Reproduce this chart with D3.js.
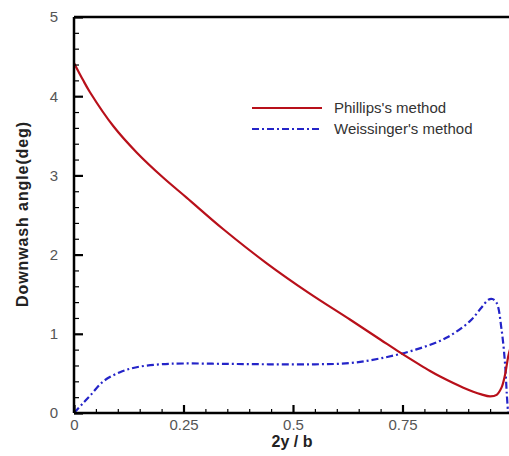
<!DOCTYPE html>
<html>
<head>
<meta charset="utf-8">
<script src="https://cdn.jsdelivr.net/npm/d3@7"></script>
<style>
  html, body { margin: 0; padding: 0; background: #fff; }
  svg { display: block; }
  text { font-family: "Liberation Sans", Arial, sans-serif; }
</style>
</head>
<body>
<svg id="chart" width="509" height="456"></svg>
<script>
// Spanwise downwash angle: Phillips's vs Weissinger's method
const phillipsX = [0, 0.02, 0.0365, 0.09, 0.143, 0.204, 0.257, 0.341, 0.44, 0.535, 0.63, 0.70, 0.744, 0.786, 0.813, 0.836, 0.889, 0.93, 0.95, 0.965, 0.976, 0.984, 0.992, 0.998];
const phillipsY = [4.42, 4.21, 4.05, 3.62, 3.29, 2.97, 2.72, 2.32, 1.89, 1.52, 1.18, 0.925, 0.765, 0.62, 0.53, 0.46, 0.32, 0.235, 0.21, 0.23, 0.32, 0.48, 0.73, 0.85];

const weissingerX = [0, 0.02, 0.037, 0.067, 0.105, 0.143, 0.196, 0.25, 0.35, 0.45, 0.55, 0.63, 0.70, 0.78, 0.85, 0.904, 0.93, 0.946, 0.955, 0.965, 0.976, 0.984, 0.988, 0.991];
const weissingerY = [0, 0.12, 0.22, 0.40, 0.515, 0.578, 0.615, 0.625, 0.62, 0.615, 0.615, 0.63, 0.69, 0.80, 0.95, 1.16, 1.33, 1.43, 1.44, 1.39, 1.06, 0.63, 0.25, 0];

const xMajorTicks = [0, 0.25, 0.5, 0.75];
const xTickLabels = ["0", "0.25", "0.5", "0.75"];
const yMajorTicks = [0, 1, 2, 3, 4, 5];
const yTickLabels = ["0", "1", "2", "3", "4", "5"];

const seriesNames = ["Phillips's method", "Weissinger's method"];
const seriesColors = ["#b8101a", "#2424c8"];

const svg = d3.select("#chart");
const plotLeft = 74, plotTop = 17, plotRight = 512, plotBottom = 413;

const x = d3.scaleLinear().domain([0, 1]).range([plotLeft, plotRight]);
const y = d3.scaleLinear().domain([0, 5]).range([plotBottom, plotTop]);

const line = d3.line()
  .x(d => x(d[0]))
  .y(d => y(d[1]))
  .curve(d3.curveCatmullRom.alpha(0.5));

// curves
const phillips = phillipsX.map((v, i) => [v, phillipsY[i]]);
const weissinger = weissingerX.map((v, i) => [v, weissingerY[i]]);

svg.append("path").datum(weissinger)
  .attr("d", line).attr("fill", "none")
  .attr("stroke", seriesColors[1]).attr("stroke-width", 2.2)
  .attr("stroke-dasharray", "7,3,2,3");

svg.append("path").datum(phillips)
  .attr("d", line).attr("fill", "none")
  .attr("stroke", seriesColors[0]).attr("stroke-width", 2.2);

// axes: ticks point inward
const xMinor = d3.range(0, 1.0001, 0.05).filter(v => !xMajorTicks.some(m => Math.abs(m - v) < 1e-9));
const yMinor = d3.range(0, 5.0001, 0.2).filter(v => !yMajorTicks.some(m => Math.abs(m - v) < 1e-9));

const xAxisMinor = d3.axisBottom(x).tickValues(xMinor).tickSize(-4).tickFormat("");
const xAxisMajor = d3.axisBottom(x).tickValues(xMajorTicks).tickSize(-8)
  .tickFormat((d, i) => xTickLabels[i]).tickPadding(6);
const yAxisMinor = d3.axisLeft(y).tickValues(yMinor).tickSize(-5).tickFormat("");
const yAxisMajor = d3.axisLeft(y).tickValues(yMajorTicks).tickSize(-9)
  .tickFormat((d, i) => yTickLabels[i]).tickPadding(16);

function styleAxis(g, w) {
  g.select(".domain").remove();
  g.selectAll(".tick line").attr("stroke", "#000").attr("stroke-width", w);
  g.selectAll(".tick text").attr("fill", "#555").attr("font-size", 15)
    .attr("font-family", "Liberation Sans, Arial, sans-serif");
}

svg.append("g").attr("transform", `translate(0,${plotBottom})`).call(xAxisMinor).call(g => styleAxis(g, 1.2));
svg.append("g").attr("transform", `translate(0,${plotBottom})`).call(xAxisMajor).call(g => styleAxis(g, 2.2));
svg.append("g").attr("transform", `translate(${plotLeft},0)`).call(yAxisMinor).call(g => styleAxis(g, 1.2));
svg.append("g").attr("transform", `translate(${plotLeft},0)`).call(yAxisMajor).call(g => styleAxis(g, 2.2));

// frame lines
svg.append("line").attr("x1", plotLeft).attr("x2", plotRight).attr("y1", plotBottom).attr("y2", plotBottom)
  .attr("stroke", "#000").attr("stroke-width", 2.5);
svg.append("line").attr("x1", plotLeft).attr("x2", plotLeft).attr("y1", plotTop).attr("y2", plotBottom)
  .attr("stroke", "#000").attr("stroke-width", 2.5);
svg.append("line").attr("x1", plotLeft).attr("x2", plotRight).attr("y1", plotTop).attr("y2", plotTop)
  .attr("stroke", "#000").attr("stroke-width", 2.5);

// axis titles
svg.append("text").attr("x", 292).attr("y", 447)
  .attr("text-anchor", "middle").attr("font-weight", "bold").attr("font-size", 16)
  .attr("fill", "#222").text("2y / b");

svg.append("text").attr("transform", "translate(28,214) rotate(-90)")
  .attr("text-anchor", "middle").attr("font-weight", "bold").attr("font-size", 16)
  .attr("letter-spacing", 0.9).attr("fill", "#222").text("Downwash angle(deg)");

// legend
const legend = svg.append("g");
const legendRows = [108, 129];
legendRows.forEach((ly, i) => {
  legend.append("line").attr("x1", 252).attr("x2", 322).attr("y1", ly).attr("y2", ly)
    .attr("stroke", seriesColors[i]).attr("stroke-width", 2)
    .attr("stroke-dasharray", i === 1 ? "7,3,2,3" : null);
  legend.append("text").attr("x", 334).attr("y", ly + 5)
    .attr("font-size", 15).attr("fill", "#333").text(seriesNames[i]);
});
</script>
</body>
</html>
